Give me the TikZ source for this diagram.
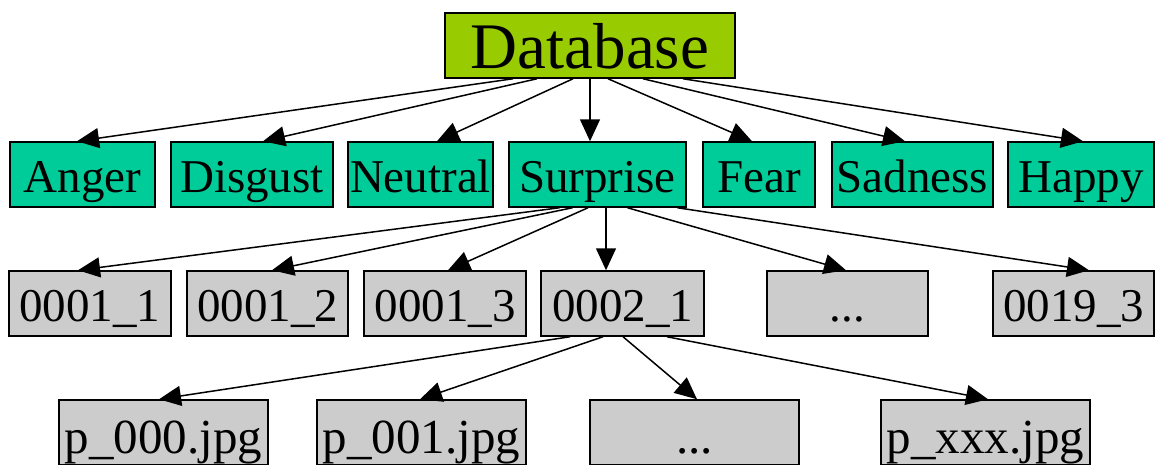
\documentclass[tikz,border=0pt]{standalone}
\usepackage{fontspec}
\setmainfont{Liberation Serif}
\usetikzlibrary{arrows.meta}
\definecolor{dbgreen}{HTML}{99CC00}
\definecolor{emoteal}{HTML}{00CC99}
\definecolor{boxgrey}{HTML}{CCCCCC}
\tikzset{
  box/.style={draw=black, line width=1.5pt, inner sep=0pt, minimum height=65pt,
    text height=35pt, text depth=0pt, font=\fontsize{47}{50}\selectfont},
  dbbox/.style={box, fill=dbgreen, text height=45pt, font=\fontsize{65}{68}\selectfont},
  emobox/.style={box, fill=emoteal},
  greybox/.style={box, fill=boxgrey},
  filebox/.style={greybox, text height=41pt, font=\fontsize{49}{52}\selectfont},
  arr/.style={line width=1.5pt, -{Triangle[length=22pt,width=20pt]}}
}
\begin{document}
\begin{tikzpicture}[x=1pt,y=-1pt]
\useasboundingbox[fill=white] (0,0) rectangle (1156,464);
% row 1
\node[dbbox, minimum width=290pt] (db) at (590,45.5) {Database};
% row 2
\node[emobox, minimum width=145pt] (anger) at (82.5,174.5) {Anger};
\node[emobox, minimum width=162pt] (disgust) at (252,174.5) {Disgust};
\node[emobox, minimum width=145pt] (neutral) at (420.5,174.5) {Neutral};
\node[emobox, minimum width=177pt] (surprise) at (597.5,174.5) {Surprise};
\node[emobox, minimum width=112pt] (fear) at (759,174.5) {Fear};
\node[emobox, minimum width=161pt] (sadness) at (912.5,174.5) {Sadness};
\node[emobox, minimum width=146pt] (happy) at (1081,174.5) {Happy};
% row 3
\node[greybox, minimum width=162pt] (s1) at (90,303.5) {0001\_1};
\node[greybox, minimum width=161pt] (s2) at (267.5,303.5) {0001\_2};
\node[greybox, minimum width=162pt] (s3) at (445,303.5) {0001\_3};
\node[greybox, minimum width=163pt] (s4) at (622.5,303.5) {0002\_1};
\node[greybox, minimum width=161pt] (s5) at (847.5,303.5) {...};
\node[greybox, minimum width=161pt] (s6) at (1073.5,303.5) {0019\_3};
% row 4
\node[filebox, minimum width=209pt] (p1) at (163.5,432.5) {p\_000.jpg};
\node[filebox, minimum width=209pt] (p2) at (421.5,432.5) {p\_001.jpg};
\node[filebox, minimum width=209pt] (p3) at (694.5,432.5) {...};
\node[filebox, minimum width=209pt] (p4) at (985.5,432.5) {p\_xxx.jpg};
% edges row1 -> row2
\draw[arr] ([xshift=-77pt]db.south) -- ([xshift=-5.5pt]anger.north);
\draw[arr] ([xshift=-53pt]db.south) -- ([xshift=11pt]disgust.north);
\draw[arr] ([xshift=-17pt]db.south) -- ([xshift=16.5pt]neutral.north);
\draw[arr] (db.south) -- ([xshift=-7.5pt]surprise.north);
\draw[arr] ([xshift=18pt]db.south) -- ([xshift=-7pt]fear.north);
\draw[arr] ([xshift=53pt]db.south) -- ([xshift=-7.5pt]sadness.north);
\draw[arr] ([xshift=93pt]db.south) -- ([xshift=2pt]happy.north);
% edges row2 -> row3
\draw[arr] ([xshift=-38pt]surprise.south) -- ([xshift=-12pt]s1.north);
\draw[arr] ([xshift=-25pt]surprise.south) -- ([xshift=4.5pt]s2.north);
\draw[arr] ([xshift=-9.5pt]surprise.south) -- ([xshift=3pt]s3.north);
\draw[arr] ([xshift=8.5pt]surprise.south) -- ([xshift=-16.5pt]s4.north);
\draw[arr] ([xshift=30pt]surprise.south) -- ([xshift=-1.5pt]s5.north);
\draw[arr] ([xshift=80pt]surprise.south) -- ([xshift=15.5pt]s6.north);
% edges row3 -> row4
\draw[arr] ([xshift=-52.5pt]s4.south) -- ([xshift=-4.5pt]p1.north);
\draw[arr] ([xshift=-19.5pt]s4.south) -- ([xshift=-1.5pt]p2.north);
\draw[arr] ([xshift=0.5pt]s4.south) -- ([xshift=2.5pt]p3.north);
\draw[arr] ([xshift=44.5pt]s4.south) -- ([xshift=2.5pt]p4.north);
\end{tikzpicture}
\end{document}
